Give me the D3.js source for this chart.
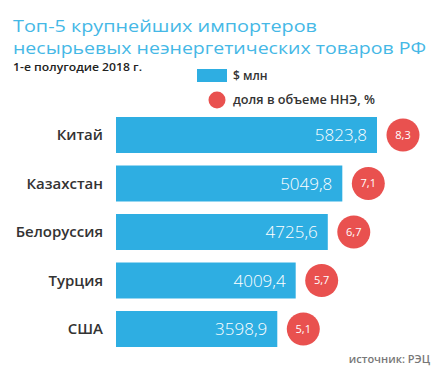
<!DOCTYPE html>
<html><head><meta charset="utf-8">
<script src="https://cdn.jsdelivr.net/npm/d3@7"></script>
<style>body{margin:0;background:#fff}svg{display:block}</style>
</head><body>
<script>
const categories = ["Китай","Казахстан","Белоруссия","Турция","США"];
const valuesUSD = [5823.8, 5049.8, 4725.6, 4009.4, 3598.9];
const shares = ["8,3","7,1","6,7","5,7","5,1"];
const valueLabels = ["5823,8","5049,8","4725,6","4009,4","3598,9"];

const W=448,H=380;
const BLUE="#2eaee2", RED="#e9514f";
const svg=d3.select("body").append("svg").attr("width",W).attr("height",H);

const FONT="'Open Sans', 'Noto Sans', sans-serif";
svg.append("text").attr("x",13).attr("y",32).attr("fill","#45b8e6")
  .attr("font-family",FONT).attr("font-size",17)
  .attr("textLength",304).attr("lengthAdjust","spacingAndGlyphs")
  .text("Топ-5 крупнейших импортеров");
svg.append("text").attr("x",13).attr("y",54).attr("fill","#45b8e6")
  .attr("font-family",FONT).attr("font-size",17)
  .attr("textLength",413).attr("lengthAdjust","spacingAndGlyphs")
  .text("несырьевых неэнергетических товаров РФ");
svg.append("text").attr("x",13).attr("y",71).attr("fill","#222")
  .attr("font-family",FONT).attr("font-size",11).attr("font-weight",600)
  .attr("textLength",129).attr("lengthAdjust","spacingAndGlyphs")
  .text("1-е полугодие 2018 г.");

svg.append("rect").attr("x",197).attr("y",69).attr("width",30).attr("height",13).attr("fill",BLUE);
svg.append("text").attr("x",233).attr("y",80).attr("fill","#333")
  .attr("font-family",FONT).attr("font-size",12).attr("font-weight",600).text("$ млн");
svg.append("circle").attr("cx",217).attr("cy",100).attr("r",8.5).attr("fill",RED);
svg.append("text").attr("x",233).attr("y",104).attr("fill","#333")
  .attr("font-family",FONT).attr("font-size",12).attr("font-weight",600)
  .attr("textLength",142).attr("lengthAdjust","spacingAndGlyphs")
  .text("доля в объеме ННЭ, %");

const x0=116;
const x=d3.scaleLinear().domain([0,d3.max(valuesUSD)]).range([x0,377]);
const y=d3.scaleBand().domain(categories).range([117,347]).paddingInner(0.258).paddingOuter(0);

const g=svg.append("g");
categories.forEach((c,i)=>{
  const yy=y(c), bh=y.bandwidth(), xe=x(valuesUSD[i]);
  g.append("rect").attr("x",x(0)).attr("y",yy).attr("width",xe-x(0)).attr("height",bh).attr("fill",BLUE);
  g.append("text").attr("x",xe-10).attr("y",yy+bh/2).attr("dy","0.36em")
    .attr("text-anchor","end").attr("fill","#fff").attr("font-family",FONT).attr("font-size",17).attr("font-weight",300)
    .text(valueLabels[i]);
  g.append("text").attr("x",103).attr("y",yy+bh/2).attr("dy","0.36em")
    .attr("text-anchor","end").attr("fill","#333").attr("font-family",FONT).attr("font-size",15).attr("font-weight",600)
    .text(c);
  g.append("circle").attr("cx",xe+26).attr("cy",yy+bh/2).attr("r",16.5).attr("fill",RED);
  g.append("text").attr("x",xe+26).attr("y",yy+bh/2).attr("dy","0.36em")
    .attr("text-anchor","middle").attr("fill","#fff").attr("font-family",FONT).attr("font-size",11)
    .text(shares[i]);
});

svg.append("text").attr("x",430).attr("y",363).attr("text-anchor","end").attr("fill","#777")
  .attr("font-family",FONT).attr("font-size",11).attr("font-weight",600).text("источник: РЭЦ");
</script>
</body></html>
